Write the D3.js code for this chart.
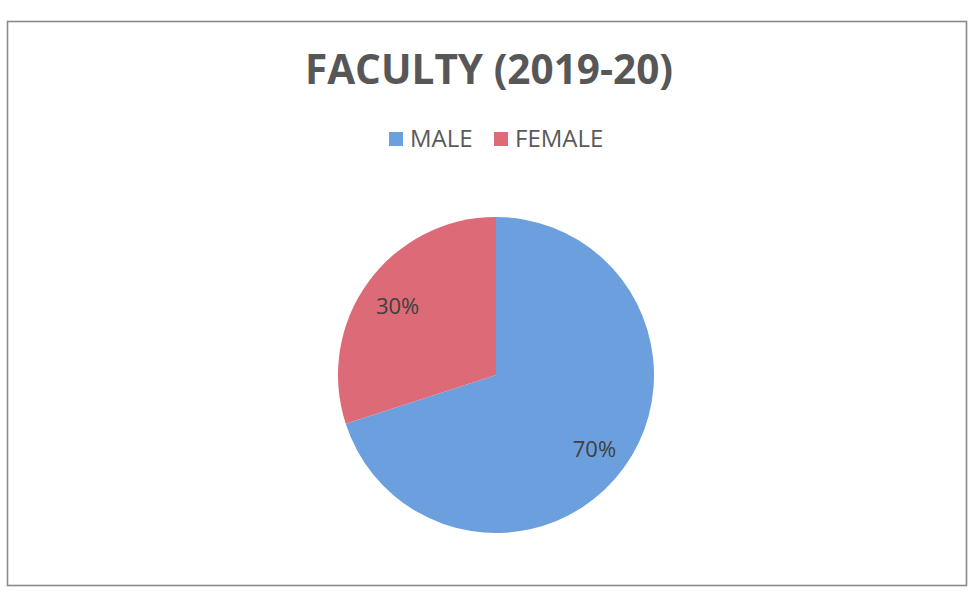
<!DOCTYPE html>
<html>
<head>
<meta charset="utf-8">
<script src="https://cdn.jsdelivr.net/npm/d3@7"></script>
<style>
  body { margin: 0; background: #fff; }
  svg { display: block; }
</style>
</head>
<body>
<div id="chart"></div>
<script>
var categories = ["MALE", "FEMALE"];
var shares = [70, 30];
var chartTitle = "FACULTY (2019-20)";

var width = 968, height = 592;
var cx = 496, cy = 375, radius = 158;

var svg = d3.select("#chart")
    .append("svg")
    .attr("width", width)
    .attr("height", height);

// outer frame of the chart area
svg.append("rect")
    .attr("x", 7.5)
    .attr("y", 21.5)
    .attr("width", 959)
    .attr("height", 564)
    .attr("fill", "none")
    .attr("stroke", "#8a8a8a")
    .attr("stroke-width", 1.6);

svg.append("text")
    .attr("x", 489)
    .attr("y", 84)
    .attr("text-anchor", "middle")
    .style("font-family", "'Open Sans', sans-serif")
    .style("font-weight", "bold")
    .style("font-size", "40.5px")
    .style("fill", "#575757")
    .text(chartTitle);

var color = d3.scaleOrdinal()
    .domain(categories)
    .range(["#6c9fde", "#dc6b77"]);

// legend
var legendX = d3.scalePoint()
    .domain(categories)
    .range([389, 494]);

var legend = svg.selectAll(".legend")
    .data(categories)
    .enter()
    .append("g")
    .attr("class", "legend")
    .attr("transform", function (d) {
        return "translate(" + legendX(d) + ",131)";
    });

legend.append("rect")
    .attr("width", 14)
    .attr("height", 14)
    .attr("y", 1)
    .attr("fill", function (d) { return color(d); });

legend.append("text")
    .attr("x", 21)
    .attr("y", 16)
    .style("font-family", "'Open Sans', sans-serif")
    .style("font-size", "24px")
    .style("fill", "#595959")
    .text(function (d) { return d; });

// pie
var pie = d3.pie()
    .sort(null)
    .value(function (d) { return d.value; });

var pieData = pie(categories.map(function (c, i) {
    return {name: c, value: shares[i]};
}));

var arc = d3.arc()
    .innerRadius(0)
    .outerRadius(radius);

var labelArc = d3.arc()
    .innerRadius(radius * 0.77)
    .outerRadius(radius * 0.77);

var g = svg.append("g")
    .attr("transform", "translate(" + cx + "," + cy + ")");

g.selectAll("path")
    .data(pieData)
    .enter()
    .append("path")
    .attr("d", arc)
    .attr("fill", function (d) { return color(d.data.name); });

var total = d3.sum(shares);

g.selectAll(".label")
    .data(pieData)
    .enter()
    .append("text")
    .attr("class", "label")
    .attr("transform", function (d) {
        var c = labelArc.centroid(d);
        return "translate(" + c[0] + "," + (c[1] + 3) + ")";
    })
    .attr("text-anchor", "middle")
    .attr("dy", "0.35em")
    .style("font-family", "'Open Sans', sans-serif")
    .style("font-size", "22px")
    .style("fill", "#404040")
    .text(function (d) {
        return Math.round(d.data.value / total * 100) + "%";
    });
</script>
</body>
</html>
